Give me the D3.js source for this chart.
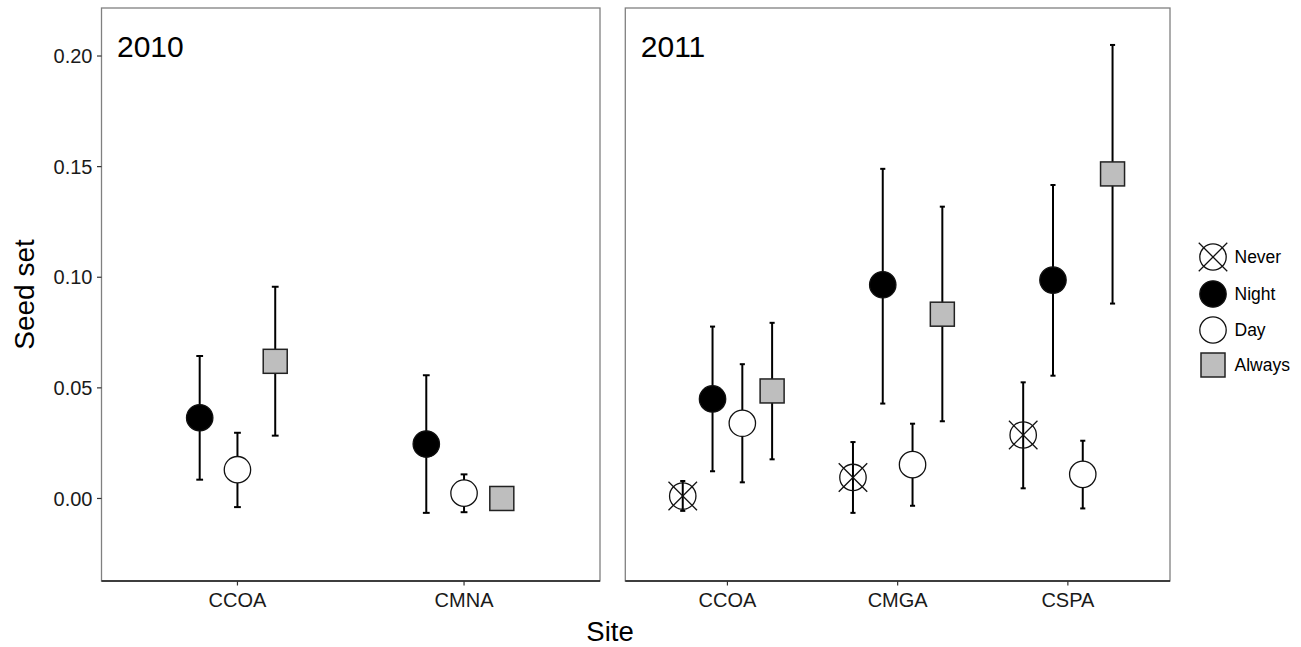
<!DOCTYPE html>
<html>
<head>
<meta charset="utf-8">
<script src="https://cdn.jsdelivr.net/npm/d3@7/dist/d3.min.js"></script>
<style>
  html, body { margin: 0; padding: 0; background: #fff; }
  svg { display: block; font-family: "Liberation Sans", Arial, sans-serif; }
</style>
</head>
<body>
<svg id="chart" width="1301" height="647"></svg>
<script>
// ---------------- data ----------------
const treatments = ["Never", "Night", "Day", "Always"];
const yTicks = [0.00, 0.05, 0.10, 0.15, 0.20];
const yDomain = [-0.0373, 0.2217];

// 2010 panel
const sites2010 = ["CCOA", "CMNA"];
const groups2010 = ["Night", "Day", "Always"];
const mean2010  = [[0.0365, 0.0246], [0.0130, 0.0024], [0.0620, 0.0000]];
const lower2010 = [[0.0085, -0.0065], [-0.0039, -0.0062], [0.0284, null]];
const upper2010 = [[0.0644, 0.0557], [0.0297, 0.0109], [0.0957, null]];

// 2011 panel
const sites2011 = ["CCOA", "CMGA", "CSPA"];
const groups2011 = ["Never", "Night", "Day", "Always"];
const mean2011  = [[0.0011, 0.0095, 0.0287], [0.0450, 0.0966, 0.0987], [0.0340, 0.0153, 0.0109], [0.0486, 0.0833, 0.1467]];
const lower2011 = [[-0.0056, -0.0065, 0.0046], [0.0123, 0.0429, 0.0555], [0.0073, -0.0033, -0.0045], [0.0177, 0.0349, 0.0881]];
const upper2011 = [[0.0079, 0.0255, 0.0525], [0.0777, 0.1490, 0.1417], [0.0607, 0.0338, 0.0261], [0.0794, 0.1319, 0.2050]];

// ---------------- drawing ----------------
const svg = d3.select("#chart");
const yTop = 8, yBottom = 581;
const y = d3.scaleLinear().domain(yDomain).range([yBottom, yTop]);

const fills = { Never: "none", Night: "#000000", Day: "#ffffff", Always: "#bebebe" };
const R = 13.2, SQ = 24;

function drawSymbol(g, t, cx, cy) {
  if (t === "Never") {
    g.append("circle").attr("cx", cx).attr("cy", cy).attr("r", R)
      .attr("fill", "none").attr("stroke", "#111").attr("stroke-width", 1.3);
    const e = R * 1.08;
    g.append("line").attr("x1", cx - e).attr("y1", cy - e).attr("x2", cx + e).attr("y2", cy + e)
      .attr("stroke", "#111").attr("stroke-width", 1.3);
    g.append("line").attr("x1", cx - e).attr("y1", cy + e).attr("x2", cx + e).attr("y2", cy - e)
      .attr("stroke", "#111").attr("stroke-width", 1.3);
  } else if (t === "Always") {
    g.append("rect").attr("x", cx - SQ / 2).attr("y", cy - SQ / 2).attr("width", SQ).attr("height", SQ)
      .attr("fill", fills[t]).attr("stroke", "#222").attr("stroke-width", 1.5);
  } else {
    g.append("circle").attr("cx", cx).attr("cy", cy).attr("r", R)
      .attr("fill", fills[t]).attr("stroke", "#111").attr("stroke-width", 1.3);
  }
}

function panel(x0, x1, sites, groups, means, lowers, uppers, dodgeW, label, showY) {
  const x = d3.scalePoint().domain(sites).range([x0, x1]).padding(0.6);
  const step = x.step();
  const dodge = d3.scalePoint().domain(groups)
    .range([-dodgeW * step / 2, dodgeW * step / 2]).padding(0.5);
  const g = svg.append("g");

  g.append("rect").attr("x", x0).attr("y", yTop).attr("width", x1 - x0).attr("height", yBottom - yTop)
    .attr("fill", "#fff").attr("stroke", "#808080").attr("stroke-width", 1.3);
  g.append("line").attr("x1", x0).attr("x2", x1).attr("y1", yBottom).attr("y2", yBottom)
    .attr("stroke", "#1a1a1a").attr("stroke-width", 1.3);

  sites.forEach(s => {
    g.append("line").attr("x1", x(s)).attr("x2", x(s)).attr("y1", yBottom).attr("y2", yBottom + 4.5)
      .attr("stroke", "#333").attr("stroke-width", 1.2);
    g.append("text").attr("x", x(s)).attr("y", yBottom + 25.5).attr("text-anchor", "middle")
      .attr("font-size", 20).attr("fill", "#1a1a1a").text(s);
  });

  if (showY) {
    yTicks.forEach(v => {
      g.append("line").attr("x1", x0 - 4.5).attr("x2", x0).attr("y1", y(v)).attr("y2", y(v))
        .attr("stroke", "#333").attr("stroke-width", 1.2);
      g.append("text").attr("x", x0 - 9).attr("y", y(v)).attr("dy", "0.36em").attr("text-anchor", "end")
        .attr("font-size", 20).attr("fill", "#1a1a1a").text(d3.format(".2f")(v));
    });
  }

  g.append("text").attr("x", x0 + 15.5).attr("y", yTop + 49).attr("font-size", 30)
    .attr("fill", "#000").text(label);

  const capW = 0.03 * step;
  groups.forEach((t, gi) => {
    sites.forEach((s, si) => {
      const lo = lowers[gi][si], hi = uppers[gi][si];
      if (lo === null || hi === null) return;
      const cx = x(s) + dodge(t);
      g.append("line").attr("x1", cx).attr("x2", cx).attr("y1", y(lo)).attr("y2", y(hi))
        .attr("stroke", "#000").attr("stroke-width", 2);
      [lo, hi].forEach(v => {
        g.append("line").attr("x1", cx - capW / 2).attr("x2", cx + capW / 2).attr("y1", y(v)).attr("y2", y(v))
          .attr("stroke", "#000").attr("stroke-width", 2);
      });
    });
  });
  groups.forEach((t, gi) => {
    sites.forEach((s, si) => {
      drawSymbol(g, t, x(s) + dodge(t), y(means[gi][si]));
    });
  });
}

panel(101.5, 600, sites2010, groups2010, mean2010, lower2010, upper2010, 0.5, "2010", true);
panel(625.3, 1170, sites2011, groups2011, mean2011, lower2011, upper2011, 0.7, "2011", false);

svg.append("text").attr("x", 610).attr("y", 641).attr("text-anchor", "middle")
  .attr("font-size", 27.5).attr("fill", "#000").text("Site");
svg.append("text").attr("transform", "translate(34," + ((yTop + yBottom) / 2) + ") rotate(-90)")
  .attr("text-anchor", "middle").attr("font-size", 28).attr("fill", "#000").text("Seed set");

const legendY = [257, 294, 330, 365];
const lg = svg.append("g");
treatments.forEach((t, i) => {
  drawSymbol(lg, t, 1213, legendY[i]);
  lg.append("text").attr("x", 1234.5).attr("y", legendY[i]).attr("dy", "0.36em")
    .attr("font-size", 17.5).attr("fill", "#000").text(t);
});
</script>
</body>
</html>
